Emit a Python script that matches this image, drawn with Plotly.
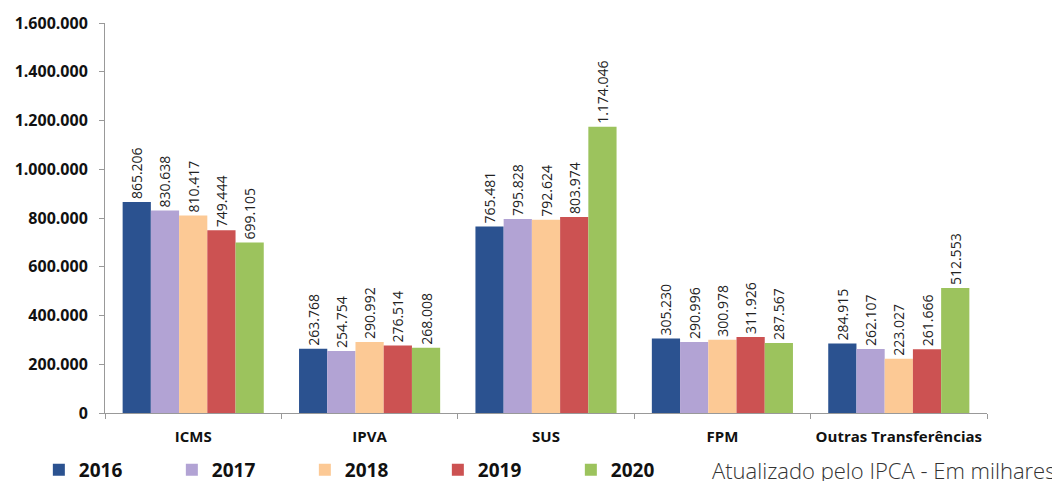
import plotly.graph_objects as go

categories = ["ICMS", "IPVA", "SUS", "FPM", "Outras Transferências"]
years = ["2016", "2017", "2018", "2019", "2020"]
values = {
    "2016": [865206, 263768, 765481, 305230, 284915],
    "2017": [830638, 254754, 795828, 290996, 262107],
    "2018": [810417, 290992, 792624, 300978, 223027],
    "2019": [749444, 276514, 803974, 311926, 261666],
    "2020": [699105, 268008, 1174046, 287567, 512553],
}
colors = {
    "2016": "#2B5290",
    "2017": "#B2A3D4",
    "2018": "#FCC995",
    "2019": "#CC5252",
    "2020": "#9CC35D",
}
y_ticks = [0, 200000, 400000, 600000, 800000, 1000000, 1200000, 1400000, 1600000]

fig = go.Figure()
for yr in years:
    fig.add_trace(go.Bar(
        x=categories, y=values[yr], name=yr,
        marker=dict(color=colors[yr], line=dict(width=0)),
        texttemplate="%{y:,.0f}", textposition="outside", textangle=-90,
        constraintext="none",
        textfont=dict(family="Open Sans", size=14, color="#222"),
        cliponaxis=False,
    ))

fig.update_layout(
    width=1060, height=481,
    margin=dict(l=97, r=81, t=15, b=76, autoexpand=False),
    paper_bgcolor="white", plot_bgcolor="white",
    barmode="group", bargap=0.2, bargroupgap=0,
    separators=",.",
    showlegend=True,
    legend=dict(
        orientation="h", x=-0.075, xanchor="left", y=-0.146, yanchor="middle",
        entrywidth=88, entrywidthmode="pixels",
        font=dict(family="Open Sans", size=19, color="#111", weight="bold"),
        traceorder="normal", bgcolor="rgba(0,0,0,0)",
    ),
    font=dict(family="Open Sans"),
)
fig.update_xaxes(
    showline=True, linecolor="#999", linewidth=1,
    ticks="outside", tickson="boundaries", ticklen=5, tickcolor="#999",
    tickangle=0, ticklabelstandoff=10,
    tickfont=dict(family="Open Sans", size=15, color="#111", weight="bold"),
    showgrid=False,
)
fig.update_yaxes(
    range=[0, 1600000], tickvals=y_ticks, tickformat=",.0f",
    showline=True, linecolor="#999", linewidth=1,
    ticks="outside", ticklen=5, tickcolor="#999", ticklabelstandoff=8,
    tickfont=dict(family="Open Sans", size=16, color="#111", weight="bold"),
    showgrid=False, zeroline=False,
)
fig.add_annotation(
    text="Atualizado pelo IPCA - Em milhares",
    xref="paper", yref="paper", x=1.079, y=-0.146, xanchor="right", yanchor="middle",
    showarrow=False, font=dict(family="Open Sans", size=22, color="#333", weight=300),
)
fig.write_html("out.html")
